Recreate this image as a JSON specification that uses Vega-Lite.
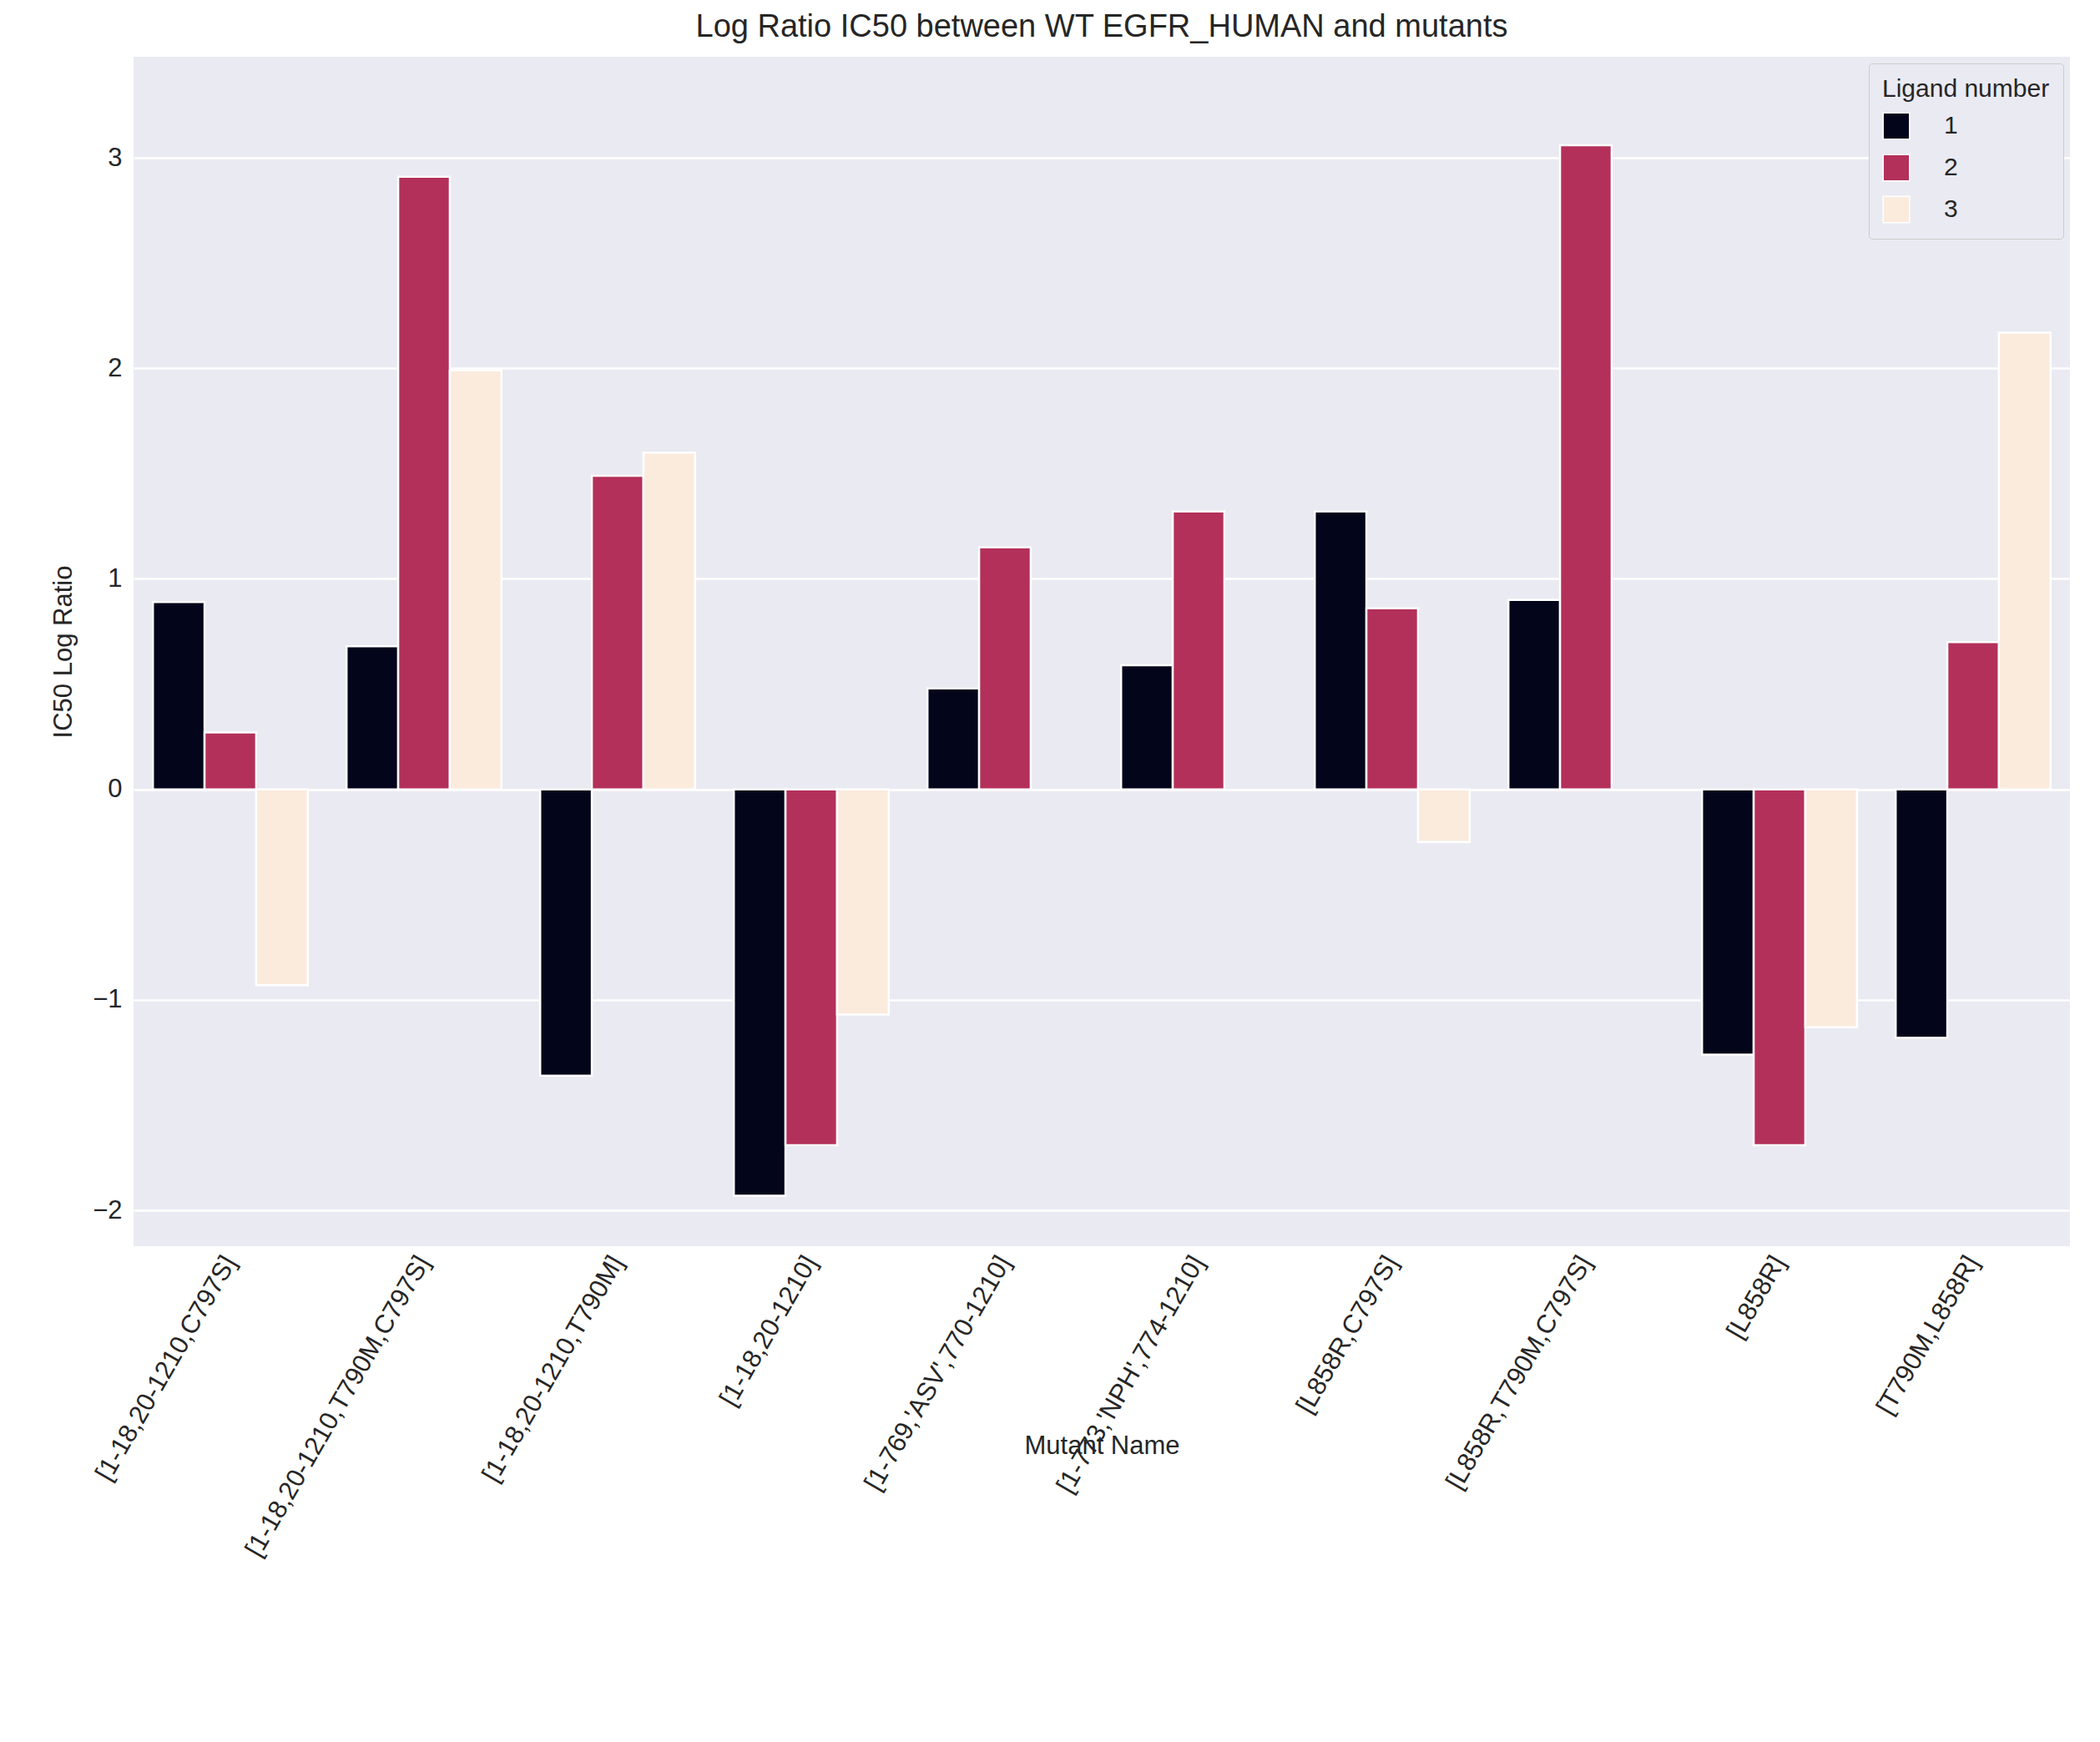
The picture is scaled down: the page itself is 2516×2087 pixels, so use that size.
{
  "$schema": "https://vega.github.io/schema/vega-lite/v6.json",
  "width": 2320,
  "height": 1425,
  "padding": {"left": 60, "top": 14, "right": 10, "bottom": 10},
  "background": "white",
  "config": {
    "font": "Liberation Sans",
    "view": {"fill": "#EAEAF2", "stroke": null},
    "axis": {"domain": false, "ticks": false, "grid": true, "gridColor": "white", "gridWidth": 2.5, "labelFontSize": 31, "titleFontSize": 31, "labelColor": "#262626", "titleColor": "#262626", "titleFontWeight": "normal", "labelPadding": 14, "labelLimit": 0}
  },
  "title": {"text": "Log Ratio IC50 between WT EGFR_HUMAN and mutants", "fontSize": 38, "fontWeight": "normal", "color": "#262626", "offset": 16},
  "data": {"values": [
    {"m": "[1-18,20-1210,C797S]", "l": "1", "v": 0.89},
    {"m": "[1-18,20-1210,C797S]", "l": "2", "v": 0.27},
    {"m": "[1-18,20-1210,C797S]", "l": "3", "v": -0.93},
    {"m": "[1-18,20-1210,T790M,C797S]", "l": "1", "v": 0.68},
    {"m": "[1-18,20-1210,T790M,C797S]", "l": "2", "v": 2.91},
    {"m": "[1-18,20-1210,T790M,C797S]", "l": "3", "v": 1.99},
    {"m": "[1-18,20-1210,T790M]", "l": "1", "v": -1.36},
    {"m": "[1-18,20-1210,T790M]", "l": "2", "v": 1.49},
    {"m": "[1-18,20-1210,T790M]", "l": "3", "v": 1.6},
    {"m": "[1-18,20-1210]", "l": "1", "v": -1.93},
    {"m": "[1-18,20-1210]", "l": "2", "v": -1.69},
    {"m": "[1-18,20-1210]", "l": "3", "v": -1.07},
    {"m": "[1-769,'ASV',770-1210]", "l": "1", "v": 0.48},
    {"m": "[1-769,'ASV',770-1210]", "l": "2", "v": 1.15},
    {"m": "[1-773,'NPH',774-1210]", "l": "1", "v": 0.59},
    {"m": "[1-773,'NPH',774-1210]", "l": "2", "v": 1.32},
    {"m": "[L858R,C797S]", "l": "1", "v": 1.32},
    {"m": "[L858R,C797S]", "l": "2", "v": 0.86},
    {"m": "[L858R,C797S]", "l": "3", "v": -0.25},
    {"m": "[L858R,T790M,C797S]", "l": "1", "v": 0.9},
    {"m": "[L858R,T790M,C797S]", "l": "2", "v": 3.06},
    {"m": "[L858R]", "l": "1", "v": -1.26},
    {"m": "[L858R]", "l": "2", "v": -1.69},
    {"m": "[L858R]", "l": "3", "v": -1.13},
    {"m": "[T790M,L858R]", "l": "1", "v": -1.18},
    {"m": "[T790M,L858R]", "l": "2", "v": 0.7},
    {"m": "[T790M,L858R]", "l": "3", "v": 2.17}
  ]},
  "mark": {"type": "bar", "stroke": "white", "strokeWidth": 2.5},
  "encoding": {
    "x": {"field": "m", "type": "nominal", "sort": null, "title": "Mutant Name",
      "scale": {"paddingInner": 0.2, "paddingOuter": 0.1},
      "axis": {"labelAngle": -60, "grid": false, "titlePadding": 24}},
    "xOffset": {"field": "l", "type": "nominal", "scale": {"domain": ["1", "2", "3"]}},
    "y": {"field": "v", "type": "quantitative", "title": "IC50 Log Ratio",
      "scale": {"domain": [-2.17, 3.48], "nice": false},
      "axis": {"values": [-2, -1, 0, 1, 2, 3], "labelExpr": "replace(datum.label, '-', '−')", "titlePadding": 18}},
    "color": {"field": "l", "type": "nominal", "title": "Ligand number",
      "scale": {"domain": ["1", "2", "3"], "range": ["#03051A", "#B3305A", "#FAEBDD"]},
      "legend": {"orient": "top-right", "offset": 8, "fillColor": "#EAEAF2", "strokeColor": "#cccccc", "padding": 16, "cornerRadius": 4, "titleLimit": 0, "labelLimit": 0,
        "titleFontSize": 30, "titleFontWeight": "normal", "labelFontSize": 30, "symbolType": "square", "symbolSize": 1000, "symbolStrokeColor": "white", "labelOffset": 40, "rowPadding": 12, "titlePadding": 12, "titleColor": "#262626", "labelColor": "#262626"}}
  }
}
